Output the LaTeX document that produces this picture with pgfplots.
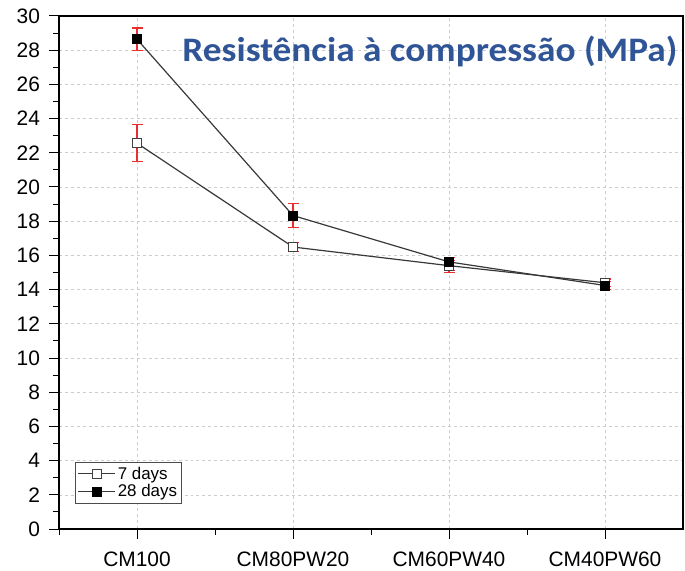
\documentclass[border=0pt]{standalone}
\usepackage{pgfplots}
\pgfplotsset{compat=1.18}
\usepackage{fontspec}
\setmainfont{Liberation Sans}
\newfontfamily\titlefont{Carlito}
\definecolor{titleblue}{RGB}{47,85,151}
\definecolor{errred}{RGB}{235,45,45}
\definecolor{gridgray}{RGB}{205,205,205}
\pgfplotstableread{
x y
0 22.56
1 16.49
2 15.40
3 14.40
}\sevendays
\pgfplotstableread{
x y
0 28.64
1 18.33
2 15.62
3 14.24
}\twentyeight
% error bar ends (low, high) separated by nan rows
\pgfplotstableread{
x y
0 21.49
0 23.63
nan nan
1 16.24
1 16.74
nan nan
2 15.12
2 15.68
nan nan
3 14.18
3 14.62
}\sevenerr
\pgfplotstableread{
x y
0 27.96
0 29.30
nan nan
1 17.65
1 19.01
nan nan
2 14.98
2 15.87
nan nan
3 14.02
3 14.46
}\twentyeighterr
\begin{document}
\begin{tikzpicture}
\begin{axis}[
  set layers=standard,
  scale only axis,
  width=624bp, height=513bp,
  xmin=-0.5, xmax=3.5,
  ymin=0, ymax=30,
  xtick={0,1,2,3},
  xticklabels={CM100,CM80PW20,CM60PW40,CM40PW60},
  minor xtick={-0.5,0.5,1.5,2.5},
  ytick={0,2,...,30},
  minor y tick num=1,
  xtick pos=bottom, ytick pos=left,
  tick align=outside,
  major tick length=9.5bp,
  minor tick length=5.5bp,
  every tick/.style={black, line width=1pt},
  axis line style={line width=1.1pt},
  xmajorgrids, ymajorgrids,
  major grid style={gridgray, dash pattern=on 3pt off 3pt, line width=0.6pt},
  tick label style={font=\fontsize{21}{25}\selectfont},
  /pgf/number format/assume math mode=true,
  xticklabel style={inner sep=0pt, yshift=-13bp},
  yticklabel style={xshift=-6bp},
  unbounded coords=jump,
  legend style={at={(0.0256,0.0504)}, anchor=south west, draw=black!70, line width=0.6pt,
    font=\fontsize{17}{20}\selectfont, inner sep=2.5pt, row sep=0pt},
  legend cell align=left,
  legend image code/.code={\draw[mark repeat=2, mark phase=2] plot coordinates {(0cm,0cm) (0.65cm,0cm) (1.3cm,0cm)};},
]
% error bars
\addplot[forget plot, draw=errred, line width=1.1pt, mark=-, mark size=5.5bp,
  mark options={draw=errred, line width=1.1pt}] table[x=x, y=y] {\sevenerr};
\addplot[forget plot, draw=errred, line width=1.1pt, mark=-, mark size=5.5bp,
  mark options={draw=errred, line width=1.1pt}] table[x=x, y=y] {\twentyeighterr};
% series
\addplot[black!78, line width=1.2pt, mark=square*, mark size=4.5pt,
  mark options={fill=white, draw=black!75, line width=0.8pt}]
  table[x=x, y=y] {\sevendays};
\addlegendentry{7 days}
\addplot[black!78, line width=1.2pt, mark=square*, mark size=4.5pt,
  mark options={fill=black, draw=black, line width=0.8pt}]
  table[x=x, y=y] {\twentyeight};
\addlegendentry{28 days}
\node[anchor=base east, inner sep=0pt, text=titleblue, xscale=1.085,
  font=\titlefont\bfseries\fontsize{34.5}{40}\selectfont]
  at (rel axis cs:1,0.911) [xshift=-5bp] {Resistência à compressão (MPa)};
\end{axis}
\pgfresetboundingbox
\path (current axis.south west) ++(-59bp,-42bp) coordinate (a);
\path (current axis.north east) ++(2bp,16bp) coordinate (b);
\path[use as bounding box] (a) rectangle (b);
\end{tikzpicture}
\end{document}
